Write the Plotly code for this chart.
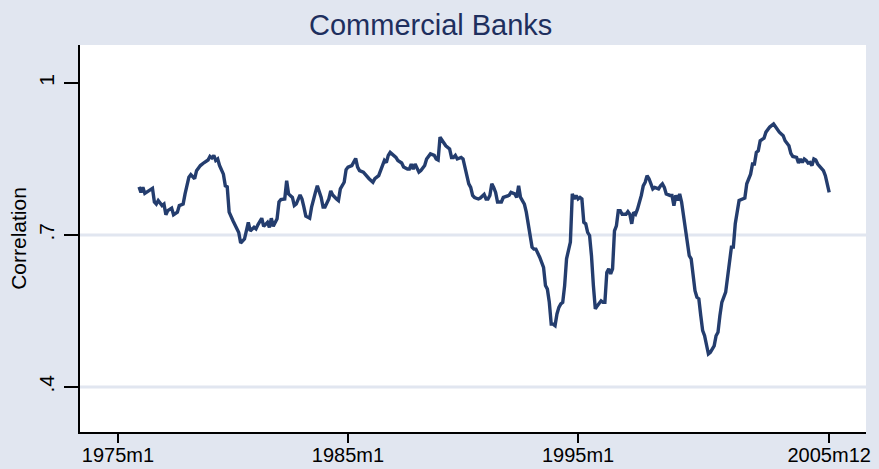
import plotly.graph_objects as go

# Rolling correlation, commercial banks. x = Stata monthly date (%tm, months since 1960m1)
months = [
    191, 192, 193, 194, 196, 198, 199, 200, 201, 203, 204, 205, 206, 208, 209, 211, 212, 214, 215,
    217, 218, 219, 220, 221, 223, 225, 227, 228, 229, 230, 231, 232, 233, 235, 236, 237, 238, 240,
    242, 243, 244, 245, 246, 248, 249, 251,
    252, 253, 255, 256, 258, 259, 260, 261, 263, 264, 265, 267, 268, 269, 271, 272, 273, 275, 276,
    277, 278, 280, 281, 283, 284, 286, 287, 288, 290, 291, 292, 294, 295, 296, 298, 299, 300, 302,
    303, 304, 305, 306, 308, 310, 311, 313,
    314, 316, 318, 319, 320, 321, 322, 323, 325, 326, 328, 329, 331, 332, 333, 334, 335, 337, 338,
    340, 341, 343, 345, 346, 347, 348, 350, 351, 353, 354, 355, 356, 357, 359, 360, 361, 362, 363,
    364, 365, 366, 368, 369, 371, 372, 373, 374, 375,
    376, 377, 378, 380, 381, 384, 385, 387, 388, 389, 390, 392, 393, 394, 395, 396, 397, 398, 400,
    401, 402, 403, 404, 405, 406, 407, 408, 409, 410, 411, 412, 413, 414, 416, 417, 418, 419, 420,
    421, 422, 423, 424, 425, 426, 427, 428, 429, 430, 432, 433, 434, 435, 436, 437, 438,
    439, 440, 441, 442, 443, 445, 446, 447, 448, 449, 450, 451, 453, 454, 455, 456, 457, 458, 459,
    460, 462, 463, 464, 465, 466, 468, 469, 470, 471, 472, 473, 474, 475, 476, 477, 478, 479, 480,
    481, 482, 483, 484, 485, 486, 487, 488, 489, 491, 492, 493, 494, 495, 497, 498, 499, 500, 501,
    502, 504, 506, 507, 508, 510, 511, 512, 513, 514, 515, 517, 518, 519, 520, 522, 523, 524, 525,
    527, 528, 530, 531, 532, 534, 535, 536, 537, 538, 539, 540, 541, 542, 543, 544, 545, 547, 548,
    549, 550, 551,
]
corr = [
    .795, .784, .794, .782, .787, .792, .765, .761, .768, .758, .761, .740, .748, .753, .740, .745, .758, .761, .781,
    .814, .819, .814, .811, .827, .837, .843, .848, .855, .852, .857, .847, .850, .837, .820, .797, .795, .745, .728,
    .712, .705, .684, .689, .692, .725, .708, .715,
    .712, .720, .733, .717, .725, .715, .733, .717, .732, .765, .770, .771, .807, .781, .774, .758, .761, .779, .771,
    .755, .737, .733, .755, .784, .797, .774, .755, .755, .771, .787, .779, .771, .768, .791, .804, .829, .834, .837,
    .843, .851, .834, .827, .824, .814, .811, .804,
    .811, .817, .840, .847, .843, .857, .863, .860, .853, .847, .842, .834, .830, .830, .840, .830, .840, .824, .827,
    .837, .850, .860, .857, .850, .848, .893, .883, .876, .870, .853, .853, .857, .850, .853, .850, .834, .820, .801,
    .794, .778, .774, .771, .773, .780, .771, .771, .778, .801,
    .794, .784, .765, .765, .774, .778, .784, .781, .774, .797, .774, .761, .745, .722, .699, .676, .672, .672, .656,
    .646, .636, .600, .593, .567, .524, .524, .521, .544, .557, .564, .567, .600, .653, .686, .781, .771, .778, .771,
    .774, .771, .725, .722, .705, .699, .659, .600, .554, .560, .570, .567, .567, .626, .633, .623, .633,
    .708, .718, .748, .748, .741, .741, .746, .741, .722, .745, .741, .751, .778, .797, .804, .817, .811, .801, .791,
    .794, .791, .797, .801, .794, .781, .778, .778, .758, .778, .768, .781, .765, .741, .712, .692, .659, .653, .617,
    .590, .577, .574, .541, .511, .501, .478, .465, .468, .481, .501, .508, .541, .567, .587, .613, .646, .676, .676,
    .722, .768, .771, .773, .801, .820, .840, .840, .863, .866, .886, .891, .903, .909, .913, .919, .913, .906, .903,
    .896, .886, .876, .861, .855, .853, .842, .850, .843, .850, .847, .842, .843, .837, .850, .848, .840, .830, .827,
    .817, .801, .784,
]

x_ticks = [180, 300, 420, 551]
x_labels = ["1975m1", "1985m1", "1995m1", "2005m12"]
y_ticks = [0.4, 0.7, 1.0]
y_labels = [".4", ".7", "1"]

BG = "#E1E6F0"
FONT = "Liberation Sans, Arial, sans-serif"

fig = go.Figure()
fig.add_trace(go.Scatter(
    x=months, y=corr, mode="lines",
    line=dict(color="#243D6E", width=3.4),
    showlegend=False,
))

# Stata draws grid lines only at the inner ticks
for v in y_ticks[:2]:
    fig.add_hline(y=v, line=dict(color=BG, width=3), layer="below")

fig.update_layout(
    width=879, height=469,
    paper_bgcolor=BG, plot_bgcolor="white",
    margin=dict(l=80, r=13, t=45, b=37, autoexpand=False),
    font=dict(family=FONT, size=21, color="black"),
    title=dict(text="Commercial Banks", x=0.49, xanchor="center", y=0.947, yanchor="middle",
               font=dict(size=29, color="#1E2F5E"), automargin=False),
)
fig.update_xaxes(
    range=[160.2, 570.2], tickvals=x_ticks, ticktext=x_labels, automargin=False,
    showgrid=False, zeroline=False, showline=True, linecolor="black", linewidth=2,
    ticks="outside", ticklen=9, tickwidth=2, tickcolor="black", ticklabelstandoff=-5,
    tickfont=dict(size=20),
)
fig.update_yaxes(
    range=[0.311, 1.075], tickvals=y_ticks, ticktext=y_labels, tickangle=-90, automargin=False,
    showgrid=False, zeroline=False, showline=True, linecolor="black", linewidth=2,
    ticks="outside", ticklen=14, tickwidth=2, tickcolor="black", ticklabelstandoff=2,
    title=dict(text="Correlation", standoff=2, font=dict(size=21)),
)

# the page body has a default 8px margin; drop it so the figure fills the window
fig.write_html("out.html", config={"displayModeBar": False},
               post_script="document.body.style.margin='0px';")
